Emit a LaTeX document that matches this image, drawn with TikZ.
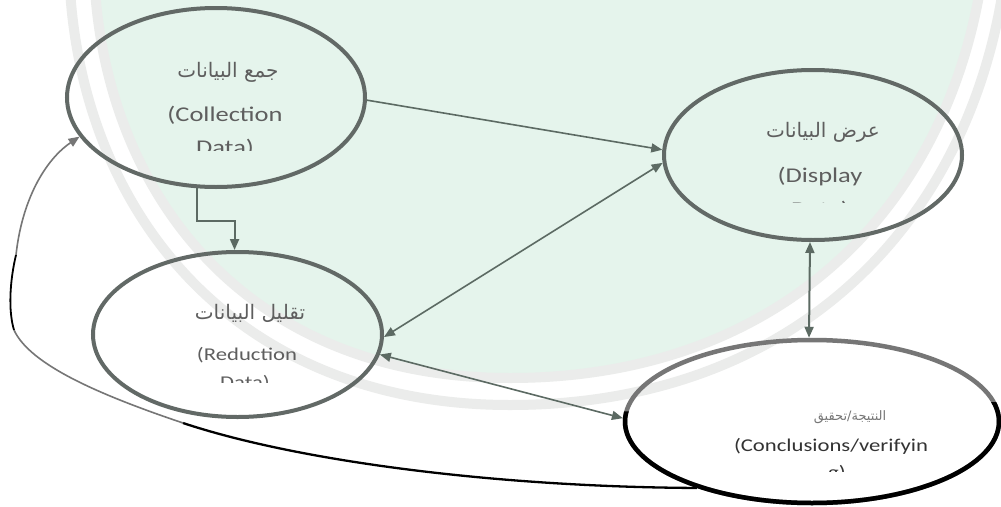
\documentclass[tikz,border=0pt]{standalone}
\usepackage{fontspec}
\setmainfont{Carlito}
\newfontfamily\latinfont[FakeStretch=1.26]{Carlito}
\newfontfamily\arabicfont[Script=Arabic]{DejaVu Sans}
\TeXXeTstate=1
\usetikzlibrary{arrows.meta,shapes.geometric}
\definecolor{ringgray}{HTML}{626966}
\definecolor{conngray}{HTML}{5C6A63}
\definecolor{txtgray}{HTML}{5E5E5E}
\definecolor{mint}{HTML}{E5F4EC}
\definecolor{band}{HTML}{EBECEB}
\definecolor{loopgray}{HTML}{767676}
\tikzset{
  ring/.style={ellipse, draw=ringgray, line width=4pt, inner sep=0pt},
  conn/.style={draw=conngray, line width=1.6pt, -{Triangle[length=11pt,width=9pt]}},
  conntwo/.style={draw=conngray, line width=1.6pt, {Triangle[length=11pt,width=9pt]}-{Triangle[length=11pt,width=9pt]}},
  lat/.style={anchor=base, text=txtgray, inner sep=0pt},
  arb/.style={anchor=center, text=txtgray, inner sep=0pt},
  concring/.style={ellipse, line width=4.5pt, inner sep=0pt, minimum width=374pt, minimum height=163pt},
}
\begin{document}
\begin{tikzpicture}[x=1pt,y=-1pt]
\useasboundingbox (0,0) rectangle (1001,506);
% watermark background
\fill[white] (0,0) rectangle (1001,506);
\path[fill=mint, draw=band, line width=10pt] (95,-10) .. controls (110,200) and (250,378) .. (510,378) .. controls (770,378) and (940,220) .. (980,-10) -- cycle;
\draw[band, line width=10pt] (70,-10) .. controls (85,220) and (240,405) .. (510,405) .. controls (790,405) and (965,230) .. (1003,-10);

% ellipses
\node[ring, minimum width=298pt, minimum height=179pt] (coll) at (216,97.5) {};
\node[ring, minimum width=298pt, minimum height=170pt] (disp) at (813,155) {};
\node[ring, minimum width=289pt, minimum height=165pt] (red) at (237.5,334.5) {};
\node[concring, draw=loopgray] (conc) at (812,421.5) {};
\begin{scope}
\clip (600,412) -- (1001,402) -- (1001,506) -- (600,506) -- cycle;
\node[concring, draw=black] (concb) at (812,421.5) {};
\end{scope}

% texts: collection
\node[arb] (t1a) at (228,72) {\arabicfont\fontsize{20}{24}\selectfont\beginR جمع البيانات\endR};
\node[lat] (t1b) at (225,121) {\latinfont\fontsize{21}{25}\selectfont (Collection};
\begin{scope}
\clip (100,0) rectangle (350,150);
\node[lat] (t1c) at (225,154) {\latinfont\fontsize{21}{25}\selectfont Data)};
\end{scope}
% display
\node[arb] (t2a) at (823,132) {\arabicfont\fontsize{20}{24}\selectfont\beginR عرض البيانات\endR};
\node[lat] (t2b) at (820,182) {\latinfont\fontsize{21}{25}\selectfont (Display};
\begin{scope}
\clip (700,150) rectangle (950,202);
\node[lat] (t2c) at (820,216) {\latinfont\fontsize{21}{25}\selectfont Data)};
\end{scope}
% reduction
\node[arb] (t3a) at (250,313) {\arabicfont\fontsize{20}{24}\selectfont\beginR تقليل البيانات\endR};
\node[lat] (t3b) at (247,360) {\latinfont\fontsize{18}{22}\selectfont (Reduction};
\begin{scope}
\clip (120,330) rectangle (370,382);
\node[lat] (t3c) at (245,388) {\latinfont\fontsize{18}{22}\selectfont Data)};
\end{scope}
% conclusions
\node[arb, text=txtgray!85] (t4a) at (850,417) {\arabicfont\fontsize{13}{16}\selectfont\beginR النتيجة/تحقيق\endR};
\node[lat, text=black!80] (t4b) at (831,451) {\latinfont\fontsize{18}{22}\selectfont (Conclusions/verifyin};
\begin{scope}
\clip (700,430) rectangle (950,471);
\node[lat, text=black!80] (t4c) at (837,478) {\latinfont\fontsize{18}{22}\selectfont g)};
\end{scope}

% connectors
\draw[conn] (coll.-1) -- (disp.178);
\coordinate (elb) at (216,221);
\draw[conn, line width=2pt] (coll.258) |- (elb) -| (red.92);
\draw[conntwo] (disp.183) -- (red.-1.5);
\draw[conntwo] (red.-8) -- (conc.179);
\draw[conntwo, line width=2pt] ([xshift=-3pt]disp.south) -- ([xshift=-3pt]conc.north);

% feedback loop
\coordinate (l1) at (183,423);
\coordinate (l2) at (14,330);
\coordinate (l3) at (16,255);
\draw[black, line width=2.3pt] (conc.210) .. controls (500,487) and (300,462) .. (l1);
\draw[loopgray, line width=1.6pt] (l1) .. controls (100,395) and (30,365) .. (l2);
\draw[black, line width=1.8pt] (l2) .. controls (8,310) and (10,280) .. (l3);
\draw[loopgray, line width=1.6pt, -{Triangle[length=11pt,width=9pt]}] (l3) .. controls (22,200) and (45,160) .. (coll.196);
\end{tikzpicture}
\end{document}
